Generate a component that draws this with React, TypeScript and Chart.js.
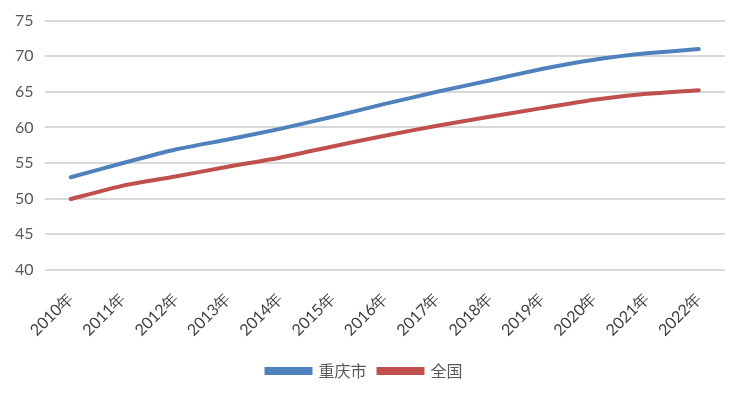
import React, { useEffect, useRef } from "react";
import { Chart, registerables } from "chart.js";

Chart.register(...registerables);

const years = ["2010年", "2011年", "2012年", "2013年", "2014年", "2015年", "2016年", "2017年", "2018年", "2019年", "2020年", "2021年", "2022年"];
const chongqing = [53.0, 55.0, 56.9, 58.3, 59.8, 61.5, 63.3, 65.0, 66.6, 68.2, 69.5, 70.4, 71.0];
const national = [49.95, 51.83, 53.1, 54.49, 55.75, 57.33, 58.84, 60.24, 61.5, 62.71, 63.89, 64.72, 65.22];
const seriesNames = ["重庆市", "全国"];

export default function App() {
  const ref = useRef<HTMLCanvasElement>(null);
  useEffect(() => {
    document.body.style.margin = "0";
    const chart = new Chart(ref.current!, {
      type: "line",
      data: {
        labels: years,
        datasets: [
          { label: seriesNames[0], data: chongqing, borderColor: "#4F81BD", backgroundColor: "#4F81BD", borderWidth: 4, pointRadius: 0, tension: 0.15, borderCapStyle: "round" },
          { label: seriesNames[1], data: national, borderColor: "#C0504D", backgroundColor: "#C0504D", borderWidth: 4, pointRadius: 0, tension: 0.15, borderCapStyle: "round" },
        ],
      },
      options: {
        animation: false,
        responsive: false,
        layout: { padding: { top: 18, right: 22, left: 4, bottom: 10 } },
        plugins: {
          tooltip: { enabled: false },
          legend: {
            position: "bottom",
            labels: {
              boxWidth: 44,
              boxHeight: 4,
              color: "#595959",
              font: { family: "'Noto Sans CJK SC'", size: 16 },
              padding: 12,
            },
          },
        },
        scales: {
          x: {
            offset: true,
            grid: { display: false },
            border: { display: false },
            ticks: {
              minRotation: 45,
              maxRotation: 45,
              color: "#404040",
              font: { family: "Lato", size: 16 },
              padding: 11,
            },
          },
          y: {
            min: 40,
            max: 75,
            grid: { color: "#D9D9D9", lineWidth: 2, drawTicks: false },
            border: { display: false },
            ticks: {
              stepSize: 5,
              color: "#595959",
              font: { family: "Lato", size: 16 },
              padding: 11,
            },
          },
        },
      },
    });
    return () => chart.destroy();
  }, []);
  return <canvas ref={ref} width={747} height={399} style={{ display: "block" }} />;
}
